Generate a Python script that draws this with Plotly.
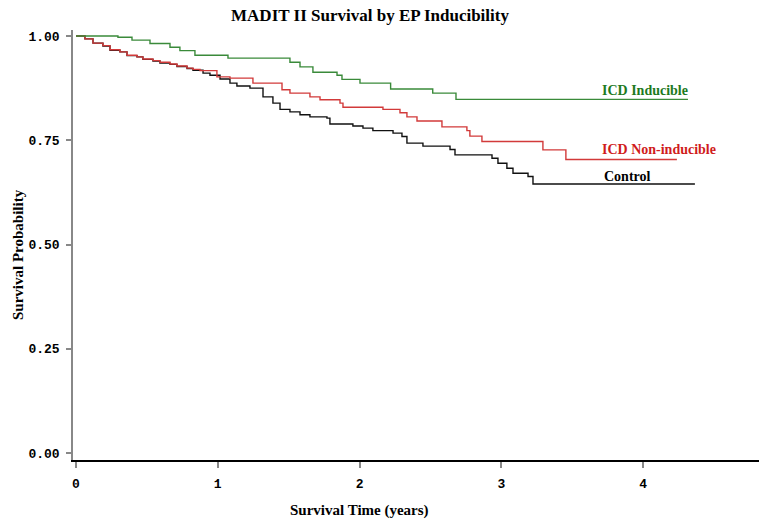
import plotly.graph_objects as go

# Kaplan-Meier step data (time in years, survival probability after the step)
control_t = [0, 0.063, 0.120, 0.190, 0.240, 0.310, 0.360, 0.430, 0.472, 0.543, 0.592,
             0.663, 0.712, 0.783, 0.825, 0.896, 0.945, 1.016, 1.086, 1.135, 1.227,
             1.319, 1.389, 1.439, 1.509, 1.580, 1.650, 1.770, 1.791, 1.953, 2.024,
             2.094, 2.236, 2.299, 2.334, 2.447, 2.638, 2.673, 2.934, 2.976, 3.039,
             3.082, 3.188, 3.223, 4.365]
control_s = [1.0, 0.993, 0.983, 0.976, 0.966, 0.962, 0.953, 0.950, 0.944, 0.940, 0.935,
             0.932, 0.927, 0.922, 0.918, 0.911, 0.906, 0.897, 0.887, 0.880, 0.875,
             0.854, 0.839, 0.824, 0.818, 0.811, 0.806, 0.803, 0.789, 0.784, 0.779,
             0.773, 0.767, 0.759, 0.743, 0.736, 0.728, 0.715, 0.707, 0.695, 0.683,
             0.671, 0.663, 0.645, 0.645]

noninduc_t = [0, 0.063, 0.120, 0.190, 0.240, 0.310, 0.360, 0.430, 0.472, 0.543, 0.592,
              0.663, 0.712, 0.783, 0.825, 0.875, 0.994, 1.086, 1.248, 1.453, 1.509,
              1.650, 1.721, 1.862, 1.883, 2.165, 2.285, 2.334, 2.405, 2.581, 2.757,
              2.778, 2.863, 3.293, 3.455, 4.238]
noninduc_s = [1.0, 0.993, 0.983, 0.977, 0.967, 0.962, 0.954, 0.950, 0.945, 0.941, 0.937,
              0.933, 0.928, 0.923, 0.920, 0.917, 0.902, 0.899, 0.887, 0.871, 0.863,
              0.854, 0.847, 0.839, 0.829, 0.824, 0.816, 0.806, 0.796, 0.782, 0.773,
              0.760, 0.747, 0.727, 0.704, 0.704]

induc_t = [0, 0.296, 0.395, 0.522, 0.663, 0.733, 0.839, 1.072, 1.509, 1.580, 1.671,
           1.841, 1.876, 2.003, 2.219, 2.516, 2.680, 4.316]
induc_s = [1.0, 0.997, 0.990, 0.982, 0.973, 0.965, 0.954, 0.947, 0.937, 0.926, 0.913,
           0.906, 0.896, 0.887, 0.873, 0.863, 0.848, 0.848]

x_ticks = [0, 1, 2, 3, 4]
y_ticks = [0.0, 0.25, 0.5, 0.75, 1.0]
y_tick_labels = ["0.00", "0.25", "0.50", "0.75", "1.00"]

series = [
    ("Control", control_t, control_s, "#111111", "#000000"),
    ("ICD Non-inducible", noninduc_t, noninduc_s, "#d23a3a", "#d01c1c"),
    ("ICD Inducible", induc_t, induc_s, "#3a8a3a", "#1e7a1e"),
]

fig = go.Figure()
for name, t, s, lc, tc in series:
    fig.add_trace(go.Scatter(x=t, y=s, mode="lines", line=dict(color=lc, width=1.4, shape="hv"),
                             name=name, showlegend=False))

label_font = dict(family="Liberation Serif", size=14, weight="bold")
# labels placed next to curve ends
fig.add_annotation(x=3.695, y=0.869, text="ICD Inducible", showarrow=False, xanchor="left",
                   yanchor="middle", font=dict(label_font, color="#1e7a1e"))
fig.add_annotation(x=3.695, y=0.727, text="ICD Non-inducible", showarrow=False, xanchor="left",
                   yanchor="middle", font=dict(label_font, color="#d01c1c"))
fig.add_annotation(x=3.71, y=0.662, text="Control", showarrow=False, xanchor="left",
                   yanchor="middle", font=dict(label_font, color="#000000"))

fig.add_annotation(xref="paper", yref="paper", x=(18 - 73) / 686, y=(460 - 255) / 430,
                   text="Survival Probability", textangle=-90, showarrow=False,
                   xanchor="center", yanchor="middle",
                   font=dict(family="Liberation Serif", size=15, weight="bold", color="#000"))
fig.add_annotation(xref="paper", yref="paper", x=(359 - 73) / 686, y=-(510 - 460) / 430,
                   text="Survival Time (years)", showarrow=False,
                   xanchor="center", yanchor="middle",
                   font=dict(family="Liberation Serif", size=15, weight="bold", color="#000"))

tick_font = dict(family="Liberation Mono", size=13, weight="bold", color="#000")
fig.update_layout(
    width=759, height=524,
    margin=dict(l=73, r=0, t=30, b=64),
    paper_bgcolor="white", plot_bgcolor="white",
    title=dict(text="MADIT II Survival by EP Inducibility", x=370 / 759, xanchor="center",
               y=1 - 15 / 524, yanchor="middle",
               font=dict(family="Liberation Serif", size=17, weight="bold", color="#000")),
    xaxis=dict(range=[-0.021, 4.817], tickvals=x_ticks, showgrid=False, zeroline=False,
               showline=True, linecolor="#000", linewidth=1.5, ticks="outside", ticklen=6,
               tickcolor="#888", tickwidth=1.5, tickfont=tick_font, ticklabelstandoff=5),
    yaxis=dict(range=[-0.0168, 1.0144], tickvals=y_ticks, ticktext=y_tick_labels,
               showgrid=False, zeroline=False, showline=True, linecolor="#888", linewidth=1.5,
               ticks="outside", ticklen=5, tickcolor="#888", tickwidth=1.5, tickfont=tick_font,
               ticklabelstandoff=4),
)

fig.write_html("out.html")
